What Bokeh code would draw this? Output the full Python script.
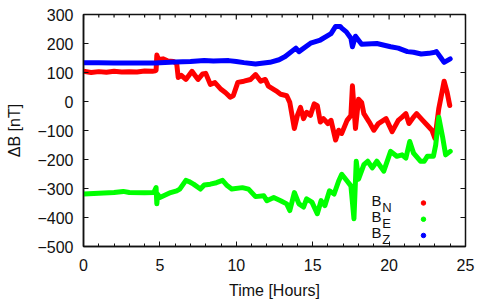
import math
from bokeh.plotting import figure
from bokeh.models import Range1d, SingleIntervalTicker, Label
from bokeh.embed import file_html
from bokeh.resources import INLINE

# ---- data ----
time_n = [0, 0.5, 1, 1.5, 2, 2.5, 3, 3.5, 4, 4.5, 4.7, 4.75, 4.8, 4.9, 5.2, 5.5, 5.9, 6.1, 6.2, 6.4,
          6.7, 7.1, 7.3, 7.5, 7.8, 8.0, 8.3, 8.6, 9.0, 9.3, 9.6, 9.8, 10.1, 10.5, 10.93, 11.26, 11.6,
          11.9, 12.1, 12.6, 12.9, 13.3, 13.5, 13.65, 13.8, 14.0, 14.2, 14.4, 14.6, 14.85, 15.1, 15.3,
          15.5, 15.7, 15.99, 16.2, 16.5, 16.7, 16.9, 17.25, 17.5, 17.6, 17.8, 18.0, 18.2, 18.35, 18.7,
          19.0, 19.3, 19.8, 20.2, 20.6, 20.85, 21.1, 21.3, 21.6, 21.8, 22.2, 22.5, 22.8, 23.0, 23.25,
          23.5, 23.6, 23.8, 23.97]
b_n = [104, 100, 103, 101, 104, 102, 103, 102, 105, 104, 106, 108, 160, 145, 147, 140, 138, 130, 83, 90,
       76, 104, 90, 76, 95, 97, 59, 65, 42, 30, 15, 20, 66, 70, 76, 93, 70,
       76, 53, 37, 25, 20, -3, -48, -93, -48, -20, -59, -37, -48, -8, -14,
       -71, -59, -76, -65, -133, -99, -110, -65, -48, 54, -93, 8, -3, -42, -71,
       -99, -76, -59, -104, -65, -54, -42, -76, -54, -42, -65, -82, -99, -127, -25,
       42, 70, 31, -14]

time_e = [0, 1, 2, 2.6, 3, 4, 4.6, 4.75, 4.8, 4.85, 5.0, 5.7, 6.1, 6.3, 6.7, 6.9, 7.2, 7.65, 7.9, 8.3,
          8.7, 9.1, 9.4, 9.7, 10.4, 10.8, 11.26, 11.8, 12.0, 12.45, 12.9, 13.3, 13.5, 13.8, 14.1,
          14.4, 14.6, 14.95, 15.3, 15.55, 15.8, 16.1, 16.4, 16.7, 16.9, 17.25, 17.5, 17.7, 17.85,
          18.0, 18.35, 18.6, 18.9, 19.2, 19.65, 20.1, 20.5, 20.85, 21.1, 21.35, 21.6, 22.05, 22.3,
          22.5, 22.9, 23.05, 23.25, 23.5, 23.7, 24.0]
b_e = [-319, -316, -314, -310, -314, -315, -314, -297, -353, -320, -331, -314, -308, -302, -272, -276,
       -285, -302, -288, -285, -280, -272, -290, -302, -297, -302, -328, -325, -342, -331, -342, -353,
       -376, -314, -353, -364, -336, -347, -387, -342, -359, -308, -319, -274, -251, -274, -291, -404,
       -206, -268, -218, -206, -229, -206, -240, -172, -189, -184, -195, -138, -178, -206, -206, -189,
       -189, -150, -54, -122, -184, -172]

time_z = [0, 1, 2, 3, 4, 4.7, 5, 6, 7, 7.9, 8.5, 9.5, 10, 10.5, 11.26, 12.2, 12.8, 13.2, 13.9, 14.1,
          14.86, 15.5, 16.2, 16.5, 16.8, 16.9, 17.2, 17.5, 17.6, 17.8, 18.2, 19.2, 20.1, 20.6, 21.2,
          21.6, 22.1, 22.6, 23.0, 23.1, 23.4, 23.6, 24.0]
b_z = [134, 134, 133, 133, 133, 133, 134, 136, 138, 141, 140, 141, 138, 134, 129, 135, 144, 155, 184,
       172, 201, 212, 234, 259, 259, 253, 240, 218, 189, 225, 197, 200, 189, 184, 172, 170, 164, 166,
       170, 172, 150, 135, 147]

legend_subs = ["N", "E", "Z"]
colors = ["#ff0000", "#00ff00", "#0000ff"]

x_major = [0, 5, 10, 15, 20, 25]
x_minor = [h for h in range(0, 26) if h % 5 != 0]
y_major = [-500, -400, -300, -200, -100, 0, 100, 200, 300]

FONT = "Liberation Sans"
INK = "#111111"

p = figure(width=478, height=301, x_range=Range1d(0, 25), y_range=Range1d(-500, 300),
           output_backend="svg", toolbar_location=None,
           min_border_left=83, min_border_top=14, min_border_right=13, min_border_bottom=51)
p.grid.visible = False
p.outline_line_color = INK
p.outline_line_width = 1.5

for t, v, c in zip([time_n, time_e, time_z], [b_n, b_e, b_z], colors):
    p.line(t, v, line_color=c, line_width=5, line_join="round", line_cap="round")

# mirrored inward ticks on the top and right edges (clipped to the frame)
p.scatter(x_major, [300] * len(x_major), marker="dash", angle=math.pi / 2, size=10,
          line_color=INK, line_width=1.2)
p.scatter(x_minor, [300] * len(x_minor), marker="dash", angle=math.pi / 2, size=6,
          line_color=INK, line_width=1.2)
p.scatter([25] * len(y_major), y_major, marker="dash", size=10, line_color=INK, line_width=1.2)

# axes
xa = p.xaxis[0]
ya = p.yaxis[0]
xa.ticker = SingleIntervalTicker(interval=5, num_minor_ticks=5)
ya.ticker = SingleIntervalTicker(interval=100, num_minor_ticks=0)
xa.axis_label = "Time [Hours]"
ya.axis_label = "ΔB [nT]"
for ax in (xa, ya):
    ax.axis_line_color = INK
    ax.axis_line_width = 1.5
    ax.major_tick_in = 5
    ax.major_tick_out = 0
    ax.minor_tick_in = 3
    ax.minor_tick_out = 0
    ax.major_tick_line_color = INK
    ax.minor_tick_line_color = INK
    ax.major_label_text_font = FONT
    ax.major_label_text_font_size = "16px"
    ax.major_label_text_color = INK
    ax.axis_label_text_font = FONT
    ax.axis_label_text_font_size = "16px"
    ax.axis_label_text_font_style = "normal"
    ax.axis_label_text_color = INK
ya.minor_tick_in = 0
ya.major_label_standoff = 10
ya.axis_label_standoff = 11
xa.major_label_standoff = 12
xa.axis_label_standoff = 8

# legend (gnuplot style: label with subscript, then a dot)
lx_text, lx_sub, lx_dot = 18.85, 19.55, 22.25
ly0, ldy = -341, -56
for i, (s, c) in enumerate(zip(legend_subs, colors)):
    y = ly0 + ldy * i
    p.add_layout(Label(x=lx_text, y=y, text="B", text_font=FONT, text_font_size="15px",
                       text_baseline="middle", text_align="left", text_color=INK))
    p.add_layout(Label(x=lx_sub, y=y - 23, text=s, text_font=FONT, text_font_size="13px",
                       text_baseline="middle", text_align="left", text_color=INK))
    p.scatter([lx_dot], [y - 9], size=4.5, color=c)

open("out.html", "w").write(file_html(p, INLINE))
